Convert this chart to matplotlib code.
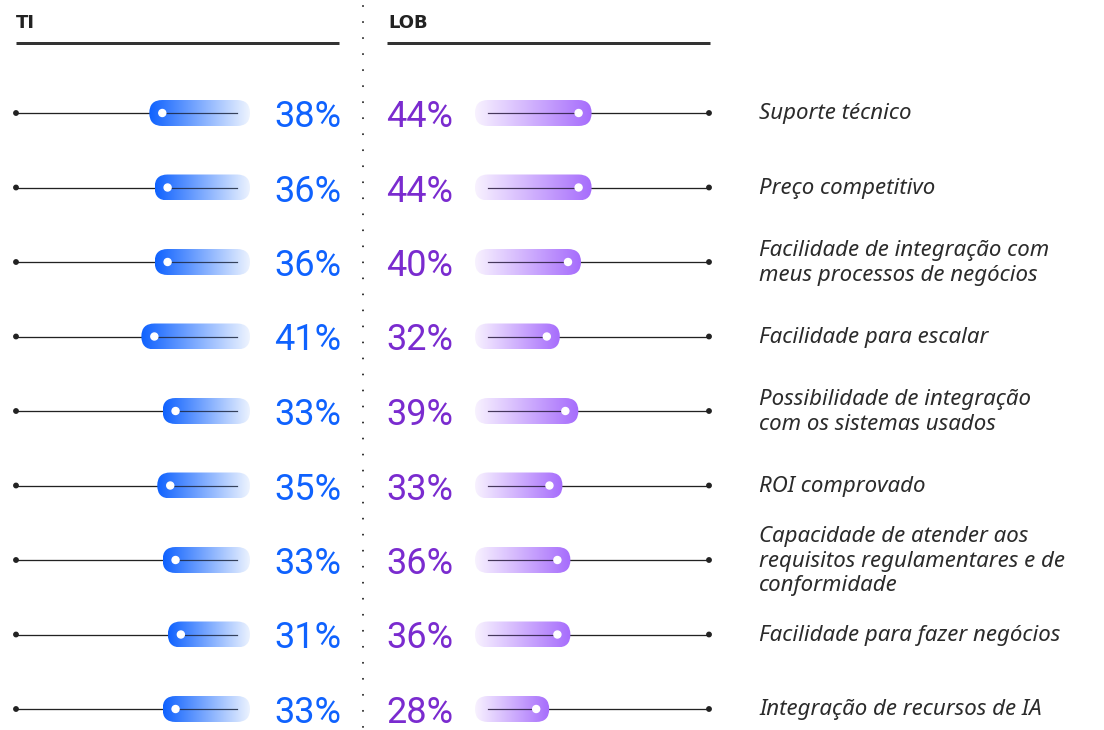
import numpy as np
import matplotlib.pyplot as plt
from matplotlib.patches import FancyBboxPatch, Circle
from matplotlib.colors import to_rgb

# Survey data: % of respondents, TI vs LOB
labels = [
    "Suporte técnico",
    "Preço competitivo",
    "Facilidade de integração com\nmeus processos de negócios",
    "Facilidade para escalar",
    "Possibilidade de integração\ncom os sistemas usados",
    "ROI comprovado",
    "Capacidade de atender aos\nrequisitos regulamentares e de\nconformidade",
    "Facilidade para fazer negócios",
    "Integração de recursos de IA",
]
ti_values = [38, 36, 36, 41, 33, 35, 33, 31, 33]
lob_values = [44, 44, 40, 32, 39, 33, 36, 36, 28]

BLUE = "#0f62fe"
BLUE_LIGHT = "#eef4ff"
PURPLE_TXT = "#7a2bcf"
PURPLE = "#a66cfc"
PURPLE_LIGHT = "#f8f2ff"
DARK = "#222222"

W, H = 1104, 730
fig = plt.figure(figsize=(W / 100, H / 100), dpi=100)
ax = fig.add_axes([0, 0, 1, 1])
ax.set_xlim(0, W)
ax.set_ylim(H, 0)
ax.axis("off")

PX = 0.72  # points per pixel
scale = 2.65  # pixels per percentage point
left_zero, right_zero = 250, 475
left_end, right_end = 16, 709
pill_h = 26
r = pill_h / 2
row_y = 113 + 74.5 * np.arange(len(labels))


def gradient_pill(x0, x1, y, c_left, c_right):
    t = np.linspace(0, 1, 300)
    a, b = np.array(to_rgb(c_left)), np.array(to_rgb(c_right))
    img = (a[None, :] * (1 - t[:, None]) + b[None, :] * t[:, None])[None, :, :]
    im = ax.imshow(img, extent=(x0, x1, y + r, y - r), aspect="auto",
                   interpolation="bilinear", zorder=2)
    clip = FancyBboxPatch((x0, y - r), x1 - x0, pill_h,
                          boxstyle=f"round,pad=0,rounding_size={r}",
                          facecolor="none", edgecolor="none", transform=ax.transData)
    ax.add_patch(clip)
    im.set_clip_path(clip)


# headers
ax.text(16, 28, "TI", fontsize=13, fontweight="bold", color=DARK,
        family="DejaVu Sans", va="baseline")
ax.text(388, 28, "LOB", fontsize=13, fontweight="bold", color=DARK,
        family="DejaVu Sans", va="baseline")
ax.plot([16, 339], [43, 43], color="#333333", lw=3 * PX, solid_capstyle="butt")
ax.plot([387, 710], [43, 43], color="#333333", lw=3 * PX, solid_capstyle="butt")

# dotted separator
ax.plot([363, 363], [6, H], color=DARK, lw=2 * PX,
        linestyle=(0, (0.01, 8)), dash_capstyle="round")

for y, ti, lob, lab in zip(row_y, ti_values, lob_values, labels):
    # TI (left, grows leftwards)
    xl = left_zero - ti * scale
    ax.plot([left_end, xl + r], [y, y], color=DARK, lw=1.3 * PX, zorder=1)
    ax.add_patch(Circle((left_end, y), 2.2, color=DARK, zorder=3))
    gradient_pill(xl, left_zero, y, BLUE, BLUE_LIGHT)
    ax.plot([xl + r, left_zero - r], [y, y], color="#1c2740", lw=1.2 * PX, alpha=0.85, zorder=3)
    ax.add_patch(Circle((xl + r, y), 3.5, color="white", zorder=4))
    ax.text(341, y + 14, f"{ti}%", ha="right", va="baseline", fontsize=26,
            color=BLUE, family="Roboto")

    # LOB (right, grows rightwards)
    xr = right_zero + lob * scale
    ax.plot([xr - r, right_end], [y, y], color=DARK, lw=1.3 * PX, zorder=1)
    ax.add_patch(Circle((right_end, y), 2.2, color=DARK, zorder=3))
    gradient_pill(right_zero, xr, y, PURPLE_LIGHT, PURPLE)
    ax.plot([right_zero + r, xr - r], [y, y], color="#2a1c40", lw=1.2 * PX, alpha=0.85, zorder=3)
    ax.add_patch(Circle((xr - r, y), 3.5, color="white", zorder=4))
    ax.text(386, y + 14, f"{lob}%", ha="left", va="baseline", fontsize=26,
            color=PURPLE_TXT, family="Roboto")

    ax.text(759, y + 1, lab, ha="left", va="center", fontsize=16, style="italic",
            color="#2b2b2b", family="Noto Sans", linespacing=1.2)

fig.savefig("out.png", dpi=100)
